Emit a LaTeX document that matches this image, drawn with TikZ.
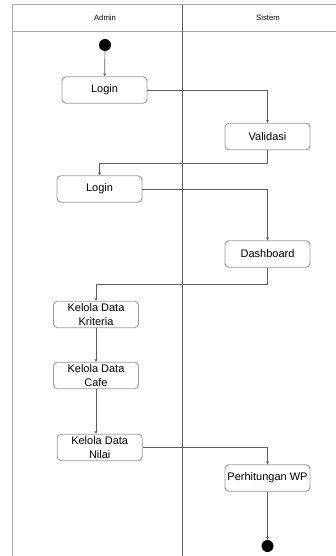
\documentclass[tikz,border=0pt]{standalone}
\usepackage{fontspec}
\setsansfont{Liberation Sans}
\usepackage{tikz}
\usetikzlibrary{arrows.meta, positioning}

\definecolor{laneGray}{HTML}{A8A8A8}
\definecolor{boxGray}{HTML}{9C9C9C}
\definecolor{flowGray}{HTML}{5E5E5E}

\begin{document}
\begin{tikzpicture}[
    x=1pt, y=-1pt,
    act/.style={rectangle, draw=boxGray, line width=0.9pt, rounded corners=4pt,
                fill=white, minimum width=85pt, minimum height=26.5pt,
                align=center, inner xsep=1pt, inner ysep=0.5pt,
                font=\sffamily\fontsize{11}{13.5}\selectfont},
    dot/.style={circle, fill=black, minimum size=12pt, inner sep=0pt},
    flow/.style={draw=flowGray, line width=0.7pt, -{Stealth[length=3pt, width=3pt]}},
    lane/.style={font=\sffamily\fontsize{7.7}{9}\selectfont}
  ]
    \useasboundingbox (0,0) rectangle (336,556);

    % swimlanes
    \draw[laneGray, line width=1pt] (12,556) -- (12,5) -- (336,5);
    \draw[laneGray, line width=0.9pt] (12,31) -- (336,31);
    \draw[flowGray, line width=0.7pt] (182,5) -- (182,556);
    \node[lane] (admin) at (105,18) {Admin};
    \node[lane] (sistem) at (268,18) {Sistem};

    % activities
    \node[dot] (start) at (105,45) {};
    \node[act] (log1) at (104.5,90) {Login};
    \node[act] (val) at (267.5,136.5) {Validasi};
    \node[act] (log2) at (99.5,189) {Login};
    \node[act] (dash) at (267.5,254) {Dashboard};
    \node[act] (krit) at (96,314.5) {Kelola Data\\Kriteria};
    \node[act] (cafe) at (96,375.5) {Kelola Data\\Cafe};
    \node[act] (nilai) at (99.7,447.5) {Kelola Data\\Nilai};
    \node[act] (hitung) at (267.5,478) {Perhitungan WP};
    \node[dot] (stop) at (267.5,546) {};

    % flows
    \draw[flow] (start) -- (log1);
    \draw[flow] (log1) -| (val);
    \draw[flow] (val.south) -- ++(0,13.5) -| (log2.north);
    \draw[flow] (log2) -| (dash);
    \draw[flow] (dash.south) -- ++(0,17) -| (krit.north);
    \draw[flow] (krit) -- (cafe);
    \draw[flow] (cafe.south) -- (cafe.south |- nilai.north);
    \draw[flow] (nilai) -| (hitung);
    \draw[flow] (hitung) -- (stop);
  \end{tikzpicture}
\end{document}
